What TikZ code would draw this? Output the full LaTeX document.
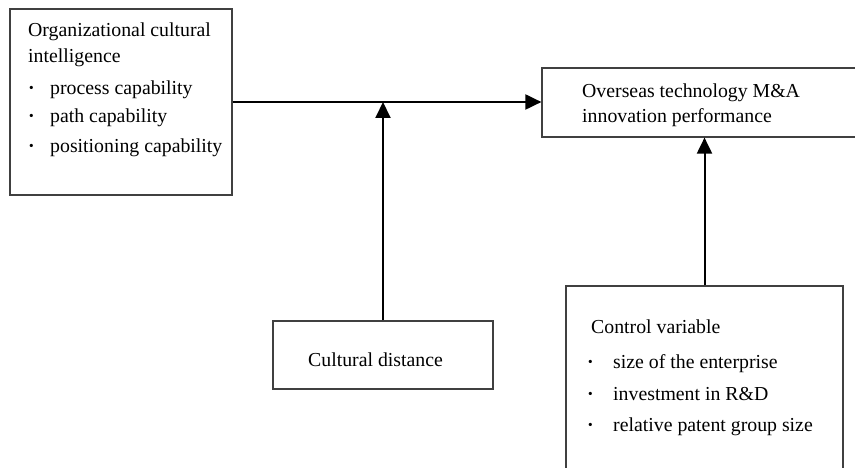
\documentclass[tikz,border=0pt]{standalone}
\usepackage{fontspec}
\setmainfont{Liberation Serif}
\usetikzlibrary{arrows.meta}
\begin{document}
\begin{tikzpicture}[x=1pt,y=-1pt,
  box/.style={draw=black!75,line width=1.2pt,fill=white,inner sep=0pt,rectangle},
  txt/.style={anchor=base west,inner sep=0pt,font=\fontsize{19.8}{23}\selectfont},
  conn/.style={line width=2pt,black,-{Triangle[length=16pt,width=15pt]}}]
\useasboundingbox (0,0) rectangle (855,468);
\clip (0,0) rectangle (855,468);
% boxes
\node[box,minimum width=222pt,minimum height=186pt] (lb) at (121,102) {};
\node[box,minimum width=328pt,minimum height=69pt] (rb) at (706,102.5) {};
\node[box,minimum width=220pt,minimum height=68pt] (cd) at (383,355) {};
\node[box,minimum width=277pt,minimum height=210pt] (cv) at (704.5,391) {};
% texts left box
\node[txt] (l1) at (28,37) {Organizational cultural};
\node[txt] (l2) at (28,63) {intelligence};
\node[txt] (b1) at (28,95) {\textbf{·}};
\node[txt] (l3) at (50,95) {process capability};
\node[txt] (b2) at (28,123) {\textbf{·}};
\node[txt] (l4) at (50,123) {path capability};
\node[txt] (b3) at (28,153) {\textbf{·}};
\node[txt] (l5) at (50,153) {positioning capability};
% right box
\node[txt] (r1) at (582,98) {Overseas technology M\&A};
\node[txt] (r2) at (582,123) {innovation performance};
% cultural distance
\node[txt] (c1) at (308,366) {Cultural distance};
% control box
\node[txt] (v1) at (591,333) {Control variable};
\node[txt] (vb1) at (587,368) {\textbf{·}};
\node[txt] (v2) at (613,368) {size of the enterprise};
\node[txt] (vb2) at (587,400) {\textbf{·}};
\node[txt] (v3) at (613,400) {investment in R\&D};
\node[txt] (vb3) at (587,431) {\textbf{·}};
\node[txt] (v4) at (613,431) {relative patent group size};
% connectors
\draw[conn] (lb.east) -- (lb.east -| rb.west);
\draw[conn] (cd.north) -- (cd.north |- lb.east);
\draw[conn] (cv.north) -- (cv.north |- rb.south);
\end{tikzpicture}
\end{document}
